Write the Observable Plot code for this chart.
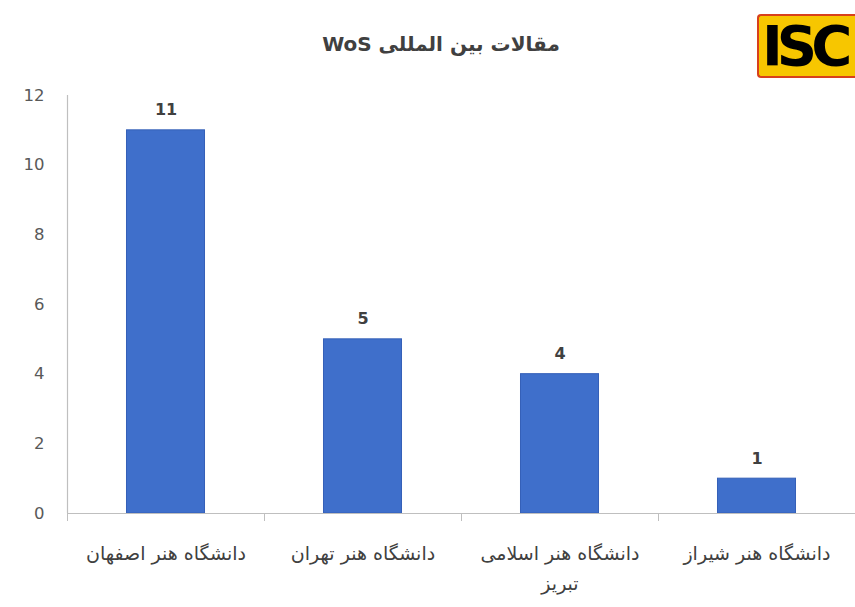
<!DOCTYPE html>
<html>
<head>
<meta charset="utf-8">
<script src="https://cdn.jsdelivr.net/npm/d3@7"></script>
<script src="https://cdn.jsdelivr.net/npm/@observablehq/plot@0.6"></script>
<style>
  html, body { margin: 0; padding: 0; background: #fff; overflow: hidden; }
  #wrap { position: relative; width: 855px; height: 607px; }
  #title { position: absolute; left: 0; width: 882px; top: 32px; text-align: center; direction: rtl;
    font-family: "DejaVu Sans", sans-serif; font-weight: bold; font-size: 20px; color: #404040; }
  #logo { position: absolute; left: 757px; top: 14px; width: 98px; height: 64px;
    background: #f7c600; border: 2px solid #d8401c; border-right: none; border-radius: 4px 0 0 4px; box-sizing: border-box;
    font-family: "DejaVu Sans", sans-serif; font-weight: 900; font-size: 56px; line-height: 60px;
    color: #000; letter-spacing: -6px; padding-left: 3px; overflow: hidden; white-space: nowrap; }
  #chart { position: absolute; left: 0; top: 0; }
</style>
</head>
<body>
<div id="wrap">
  <div id="chart"></div>
  <div id="title">مقالات بین المللی WoS</div>
  <div id="logo">ISC</div>
</div>
<script>
const categories = ["دانشگاه هنر اصفهان", "دانشگاه هنر تهران", "دانشگاه هنر اسلامی\nتبریز", "دانشگاه هنر شیراز"];
const values = [11, 5, 4, 1];
const yTicks = [0, 2, 4, 6, 8, 10, 12];

const data = categories.map((c, i) => ({c, i, v: values[i]}));
const barColor = "#3f6fcb";
const textColor = "#595959";

const chart = Plot.plot({
  width: 855,
  height: 607,
  marginLeft: 67,
  marginRight: 0,
  marginTop: 95,
  marginBottom: 94,
  style: {fontFamily: "DejaVu Sans, sans-serif", background: "transparent"},
  x: {domain: [0, categories.length], axis: null, label: null},
  y: {domain: [0, 12], axis: null, label: null},
  marks: [
    Plot.rectY(data, {x1: d => d.i + 0.302, x2: d => d.i + 0.698, y1: 0, y2: "v", fill: barColor, stroke: "#3560b8", strokeWidth: 1}),
    Plot.text(data, {x: d => d.i + 0.5, y: "v", text: d => String(d.v), dy: -20, fontSize: 16, fontWeight: "bold", fill: "#404040"}),
    Plot.ruleY([0], {stroke: "#bfbfbf", strokeWidth: 1.2}),
    Plot.ruleX([0], {stroke: "#bfbfbf", strokeWidth: 1.2}),
    Plot.axisY({ticks: yTicks, tickSize: 0, tickPadding: 23, fontSize: 16.5, fill: textColor, label: null, tickFormat: d => String(d)}),
    Plot.axisX({ticks: d3.range(categories.length + 1), tickSize: 8, stroke: "#bfbfbf", label: null, tickFormat: () => ""}),
    Plot.axisX({ticks: categories.map((c, i) => i + 0.5), tickSize: 0, tickPadding: 25, fontSize: 19, lineHeight: 1.6, fill: "#404040", label: null,
      tickFormat: t => categories[Math.round(t - 0.5)]})
  ]
});
document.getElementById("chart").appendChild(chart);
</script>
</body>
</html>
